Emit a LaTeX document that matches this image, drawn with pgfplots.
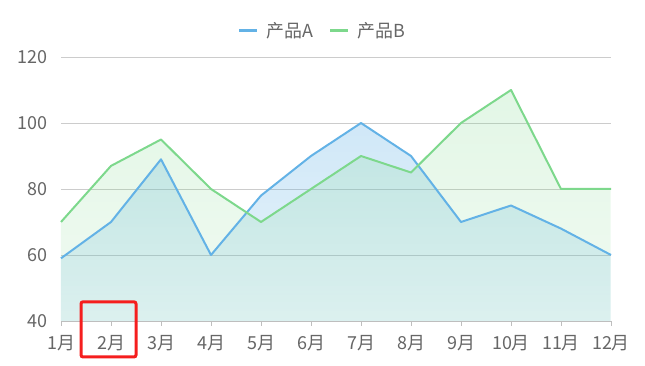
\documentclass[border=0pt]{standalone}
\usepackage{pgfplots}
\pgfplotsset{compat=1.18}
\usepackage{pgfplotstable}
\usepgfplotslibrary{fillbetween}
\usetikzlibrary{fadings}
\usepackage{fontspec}
\setmainfont{Noto Sans CJK SC}
\definecolor{cA}{RGB}{99,178,230}
\definecolor{cB}{RGB}{125,216,140}
\definecolor{txt}{RGB}{102,102,102}
\definecolor{gridc}{RGB}{204,204,204}
\definecolor{axc}{RGB}{190,190,190}
\definecolor{redbox}{RGB}{245,30,30}
\tikzfading[name=areafade, top color=transparent!0, bottom color=transparent!50]

\pgfplotstableread{
m A B
1 59 70
2 70 87
3 89 95
4 60 80
5 78 70
6 90 80
7 100 90
8 90 85
9 70 100
10 75 110
11 68 80
12 60 80
}\data

\begin{document}
\begin{tikzpicture}
\begin{axis}[
  scale only axis, width=550bp, height=264bp,
  xmin=1, xmax=12, ymin=40, ymax=120,
  xtick={1,...,12},
  xticklabels={1月,2月,3月,4月,5月,6月,7月,8月,9月,10月,11月,12月},
  ytick={40,60,...,120},
  axis x line*=bottom, axis y line*=left,
  x axis line style={draw=axc, line width=0.8bp, -},
  y axis line style={draw=none},
  ytick style={draw=none},
  xtick style={draw=axc, line width=0.8bp},
  tick align=outside, major tick length=5bp,
  ymajorgrids, grid style={draw=gridc, line width=0.8bp},
  tick label style={font=\fontsize{18}{20}\selectfont, text=txt},
  /pgf/number format/assume math mode=true,
  yticklabel style={inner sep=0pt, xshift=-8bp},
  xticklabel style={inner sep=0pt, yshift=-9bp},
  clip=false,
  legend style={draw=none, fill=none, legend columns=2,
    at={(0.5,1)}, anchor=south, xshift=-13.5bp, yshift=14bp,
    font=\fontsize{18}{20}\selectfont, text=txt,
    /tikz/every odd column/.append style={column sep=6bp},
    /tikz/every even column/.append style={column sep=14bp}},
  legend image code/.code={\draw[#1, line width=2.5bp] (0bp,0bp) -- (18bp,0bp);},
]
\coordinate (ll) at (rel axis cs:0,0);
\coordinate (ur) at (rel axis cs:1,1);
\addplot[name path=pA, draw=none, forget plot] table[x=m, y=A] {\data};
\addplot[name path=pB, draw=none, forget plot] table[x=m, y=B] {\data};
\path[name path=base] (axis cs:1,40) -- (axis cs:12,40);
\addplot[fill=cA, fill opacity=0.3, path fading=areafade, draw=none, forget plot] fill between[of=pA and base];
\addplot[fill=cB, fill opacity=0.22, path fading=areafade, draw=none, forget plot] fill between[of=pB and base];
\addplot[cA, line width=2bp, line join=round] table[x=m, y=A] {\data};
\addlegendentry{产品A}
\addplot[cB, line width=2bp, line join=round] table[x=m, y=B] {\data};
\addlegendentry{产品B}
\draw[redbox, line width=3bp, rounded corners=2bp] (axis cs:1.4,45.8) rectangle (axis cs:2.5,29.1);
\end{axis}
\pgfresetboundingbox
\path ([shift={(-61bp,-45bp)}]ll) rectangle ([shift={(34bp,57bp)}]ur);
\end{tikzpicture}
\end{document}
